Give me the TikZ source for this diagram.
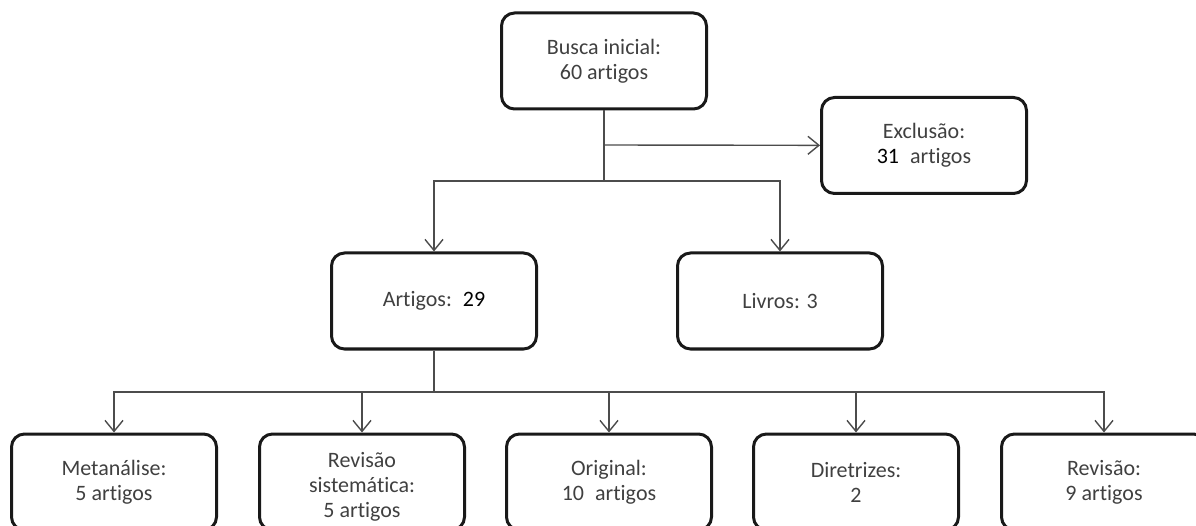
\documentclass[tikz,border=0pt]{standalone}
\usepackage{fontspec}
\setmainfont{Carlito}[Ligatures=NoCommon]
\usetikzlibrary{arrows.meta}

\begin{document}
\begin{tikzpicture}[x=1pt, y=-1pt, -{Straight Barb[length=11pt,width=18pt]},
line width=1.4pt, draw=black!70,
etapa/.style ={draw=black!90, line width=3pt, rectangle, rounded corners=13pt, minimum width=205pt, minimum height=96pt, align=center, text=black!75, font=\fontsize{22}{25}\selectfont}]

\useasboundingbox (0,0) rectangle (1196,526);
\clip (0,0) rectangle (1196,526);

\node[etapa] (busca) at (604,61) {Busca inicial:\\60 artigos};
\node[etapa] (exclusao) at (924,145.5) {Exclusão:\\\textcolor{black}{31}\enspace artigos};
\node[etapa] (artigos) at (434,301) {Artigos:\enspace\textcolor{black}{29}};
\node[etapa] (livros) at (780,301) {Livros: 3};
\node[etapa] (meta) at (114,482) {Metanálise:\\5 artigos};
\node[etapa] (revsist) at (362,482) {\mbox{}\\Revisão\\sistemática:\\5 artigos};
\node[etapa] (original) at (609,482) {Original:\\10\enspace artigos};
\node[etapa] (diretrizes) at (856,482) {Diretrizes:\\2};
\node[etapa] (revisao) at (1104,482) {Revisão:\\9 artigos};

\coordinate (j1) at (604,145);
\coordinate (j2) at (604,181);
\coordinate (j3) at (434,392);

\draw[-] (busca) -- (j2);
\draw (j1) -- (exclusao);
\draw (j2) -| (artigos);
\draw (j2) -| (livros);
\draw[-] (artigos) -- (j3);
\draw (j3) -| (meta);
\draw (j3) -| (revsist);
\draw (j3) -| (original);
\draw (j3) -| (diretrizes);
\draw (j3) -| (revisao);

\end{tikzpicture}
\end{document}
